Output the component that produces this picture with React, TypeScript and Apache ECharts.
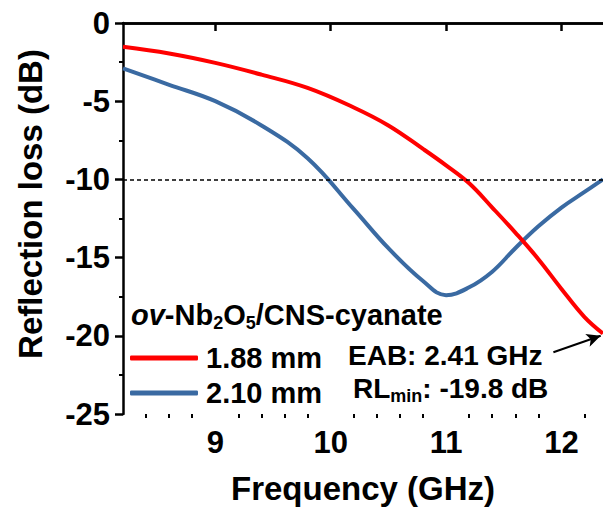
import React, { useEffect, useRef } from "react";
import * as echarts from "echarts";

const freq = [8.2, 8.6, 9.0, 9.4, 9.8, 10.2, 10.5, 10.8, 11.0, 11.2, 11.4, 11.6, 11.8, 12.0, 12.2, 12.36];
const rl188 = [-1.52, -1.95, -2.55, -3.3, -4.15, -5.4, -6.55, -8.05, -9.1, -10.25, -11.8, -13.4, -15.1, -17.0, -18.8, -19.85];
const rl210 = [-2.9, -3.95, -5.0, -6.55, -8.65, -11.9, -14.4, -16.5, -17.4, -16.9, -15.9, -14.4, -13.0, -11.8, -10.8, -10.0];
const seriesNames = ["1.88 mm", "2.10 mm"];
const seriesColors = ["#FF0000", "#3A6AA2"];
const xMajor = [9, 10, 11, 12];
const xMinor = [8.4, 8.6, 8.8, 9.2, 9.4, 9.6, 9.8, 10.2, 10.4, 10.6, 10.8, 11.2, 11.4, 11.6, 11.8, 12.2];
const threshold = -10;
const yAxisTitle = "Reflection loss (dB)";
const xAxisTitle = "Frequency (GHz)";
const eabText = "EAB: 2.41 GHz";
const rlMinValue = "-19.8 dB";

const FONT = "'Liberation Sans', Arial, sans-serif";

export default function App() {
  const ref = useRef<HTMLDivElement>(null);
  useEffect(() => {
    if (!ref.current) return;
    const chart = echarts.init(ref.current, undefined, { renderer: "svg" });
    const mk = (vals: number[]) => freq.map((f, i) => [f, vals[i]]);
    chart.setOption({
      animation: false,
      backgroundColor: "#fff",
      grid: { left: 123, top: 23, right: 0, bottom: 104, containLabel: false, outerBoundsMode: "none" },
      xAxis: [
        {
          type: "value",
          position: "bottom",
          min: 8.2,
          max: 12.36,
          name: xAxisTitle,
          nameLocation: "middle",
          nameGap: 58,
          nameTextStyle: { fontSize: 33, fontWeight: "bold", color: "#000", fontFamily: FONT },
          axisLine: { show: true, lineStyle: { color: "#000", width: 2.5 } },
          axisTick: { show: true, customValues: xMajor, length: 8, lineStyle: { color: "#000", width: 2.5 } },
          axisLabel: { customValues: xMajor, margin: 13, fontSize: 31, fontWeight: "bold", color: "#000", fontFamily: FONT },
          splitLine: { show: false },
        },
        {
          type: "value",
          position: "bottom",
          min: 8.2,
          max: 12.36,
          axisLine: { show: false },
          axisTick: { show: true, customValues: xMinor, length: 4, lineStyle: { color: "#000", width: 2 } },
          axisLabel: { show: false },
          splitLine: { show: false },
        },
        {
          type: "value",
          position: "top",
          min: 8.2,
          max: 12.36,
          axisLine: { show: true, lineStyle: { color: "#000", width: 2.5 } },
          axisTick: { show: false },
          axisLabel: { show: false },
          splitLine: { show: false },
        },
      ],
      yAxis: {
        type: "value",
        min: -25,
        max: 0,
        interval: 5,
        axisLine: { show: true, lineStyle: { color: "#000", width: 2.5 } },
        axisTick: { show: true, length: 8, lineStyle: { color: "#000", width: 2.5 } },
        minorTick: { show: true, splitNumber: 2, length: 4, lineStyle: { color: "#000", width: 2 } },
        axisLabel: { margin: 13, fontSize: 31, fontWeight: "bold", color: "#000", fontFamily: FONT },
        splitLine: { show: false },
        minorSplitLine: { show: false },
      },
      legend: {
        orient: "vertical",
        left: 130,
        top: 343,
        padding: 0,
        itemGap: 5,
        itemWidth: 68,
        itemHeight: 5,
        icon: "roundRect",
        data: seriesNames,
        textStyle: { fontSize: 29, fontWeight: "bold", color: "#000", fontFamily: FONT, lineHeight: 30, padding: [0, 0, 0, 3] },
      },
      series: [
        {
          name: seriesNames[0],
          type: "line",
          data: mk(rl188),
          smooth: 0.4,
          showSymbol: false,
          symbol: "none",
          lineStyle: { color: seriesColors[0], width: 4 },
          itemStyle: { color: seriesColors[0] },
          markLine: {
            silent: true,
            symbol: ["none", "none"],
            label: { show: false },
            lineStyle: { color: "#000", type: [4, 3], width: 1.5 },
            data: [{ yAxis: threshold }],
          },
          z: 3,
        },
        {
          name: seriesNames[1],
          type: "line",
          data: mk(rl210),
          smooth: 0.4,
          showSymbol: false,
          symbol: "none",
          lineStyle: { color: seriesColors[1], width: 4 },
          itemStyle: { color: seriesColors[1] },
          markLine: {
            silent: true,
            symbol: ["none", "arrow"],
            symbolSize: [10, 14],
            label: { show: false },
            lineStyle: { color: "#000", type: "solid", width: 2 },
            data: [[{ coord: [11.93, -21.05] }, { coord: [12.34, -20.0] }]],
          },
          z: 2,
        },
      ],
      graphic: [
        {
          type: "text",
          x: 30,
          y: 204,
          rotation: Math.PI / 2,
          style: {
            text: yAxisTitle,
            fontSize: 33,
            fontWeight: "bold",
            fontFamily: FONT,
            fill: "#000",
            align: "center",
            verticalAlign: "middle",
          },
        },
        {
          type: "text",
          left: 131,
          top: 300,
          style: {
            text: "{it|ov}{n|-Nb}{s|2}{n|O}{s|5}{n|/CNS-cyanate}",
            rich: {
              it: { fontSize: 29, fontWeight: "bold", fontStyle: "italic", fontFamily: FONT, lineHeight: 34, fill: "#000" },
              n: { fontSize: 29, fontWeight: "bold", fontFamily: FONT, lineHeight: 34, fill: "#000" },
              s: { fontSize: 18, fontWeight: "bold", fontFamily: FONT, lineHeight: 16, verticalAlign: "bottom", fill: "#000" },
            },
          },
        },
        {
          type: "text",
          left: 348,
          top: 341,
          style: { text: eabText, fontSize: 28, fontWeight: "bold", fontFamily: FONT, fill: "#000" },
        },
        {
          type: "text",
          left: 353,
          top: 374,
          style: {
            text: "{n|RL}{s|min}{n|: " + rlMinValue + "}",
            rich: {
              n: { fontSize: 28, fontWeight: "bold", fontFamily: FONT, lineHeight: 34, fill: "#000" },
              s: { fontSize: 18, fontWeight: "bold", fontFamily: FONT, lineHeight: 16, verticalAlign: "bottom", fill: "#000" },
            },
          },
        },
      ],
    });
    return () => chart.dispose();
  }, []);
  return <div ref={ref} style={{ position: "absolute", left: 0, top: 0, width: 603, height: 518 }} />;
}
